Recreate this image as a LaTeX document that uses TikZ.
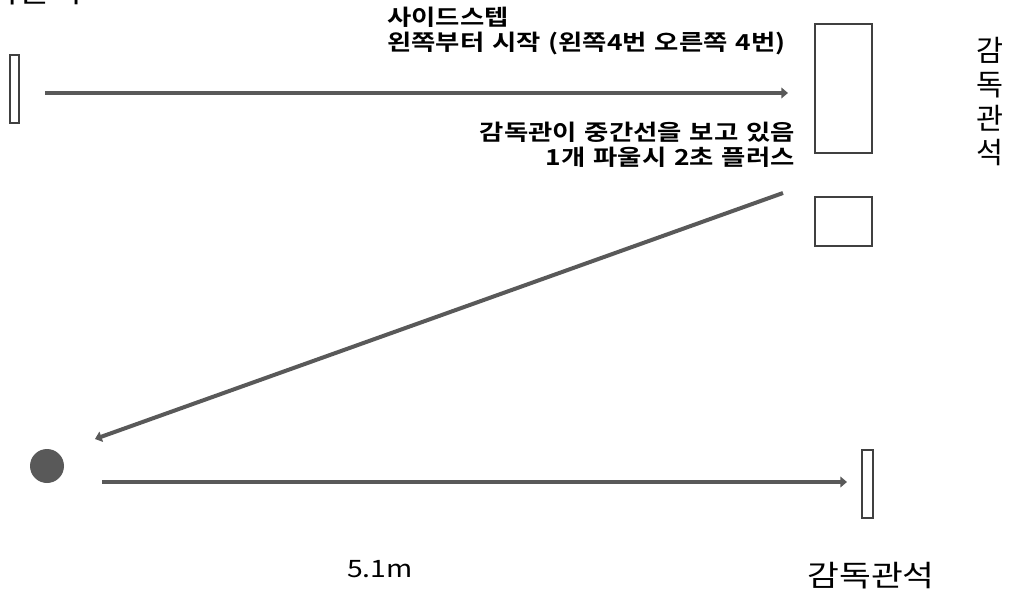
\documentclass[tikz,border=0pt]{standalone}
\usepackage{fontspec}
\setmainfont{Noto Sans CJK KR}[FakeStretch=1.18]
\newfontfamily\krplain{Noto Sans CJK KR}
\newfontfamily\krbold{Noto Sans CJK KR Bold}[FakeStretch=1.2,WordSpace=1.3]
\usetikzlibrary{arrows.meta}
\definecolor{linegray}{HTML}{595959}
\definecolor{boxgray}{HTML}{404040}
\tikzset{
  px/.style={x=0.75pt,y=-0.75pt},
  wall/.style={draw=boxgray,line width=1.1pt,fill=white,inner sep=0pt,outer sep=0pt},
  flow/.style={draw=linegray,line width=3.6pt,-{Triangle[length=5pt,width=8pt]}},
  flowthin/.style={draw=linegray,line width=3pt,-{Triangle[length=5pt,width=8pt]}},
  note/.style={font=\krbold\fontsize{16.5}{18.5}\selectfont,inner sep=0pt,text=black},
  seat/.style={font=\fontsize{22}{25.5}\selectfont,inner sep=0pt,text=black},
  vseat/.style={font=\krplain\fontsize{22}{25.5}\selectfont,inner sep=0pt,text=black},
}
\begin{document}
\begin{tikzpicture}[px]
\useasboundingbox (0,0) rectangle (1010,595);
% clipped seat label top-left (cut by the picture edge, as in the reference)
\node[seat] (seatTL) at (19,-8) {감독관석};
% left small wall
\node[wall,minimum width=6.75pt,minimum height=51pt] (leftwall) at (14.5,89) {};
% right big box and small box
\node[wall,minimum width=42.75pt,minimum height=96.75pt] (bigbox) at (843.5,88.5) {};
\node[wall,minimum width=42.75pt,minimum height=36.75pt] (smallbox) at (843.5,221.5) {};
% bottom right wall
\node[wall,minimum width=8.25pt,minimum height=51pt] (brwall) at (867.5,484) {};
% ball
\node[circle,fill=linegray,minimum size=25.5pt,inner sep=0pt] (ball) at (47,466) {};
% coordinates for arrows
\coordinate (a1s) at (45,93);
\coordinate (a1e) at (788,93);
\coordinate (a2s) at (783,193);
\coordinate (a2e) at (95,439);
\coordinate (a3s) at (102,482);
\coordinate (a3e) at (847,482);
\draw[flow] (a1s) -- (a1e);
\draw[flowthin] (a2s) -- (a2e);
\draw[flow] (a3s) -- (a3e);
% texts
\node[note,anchor=west,align=left] (t1) at (387,31) {사이드스텝\\왼쪽부터 시작 (왼쪽4번 오른쪽 4번)};
\node[note,anchor=east,align=right] (t2) at (795,145) {감독관이 중간선을 보고 있음\\1개 파울시 2초 플러스};
\node[vseat,align=center] (seatR) at (990,102) {감\\독\\관\\석};
\node[font=\fontsize{18}{20}\selectfont,inner sep=0pt] (dist) at (380,569) {5.1m};
\node[seat] (seatB) at (871,576) {감독관석};
\end{tikzpicture}
\end{document}
